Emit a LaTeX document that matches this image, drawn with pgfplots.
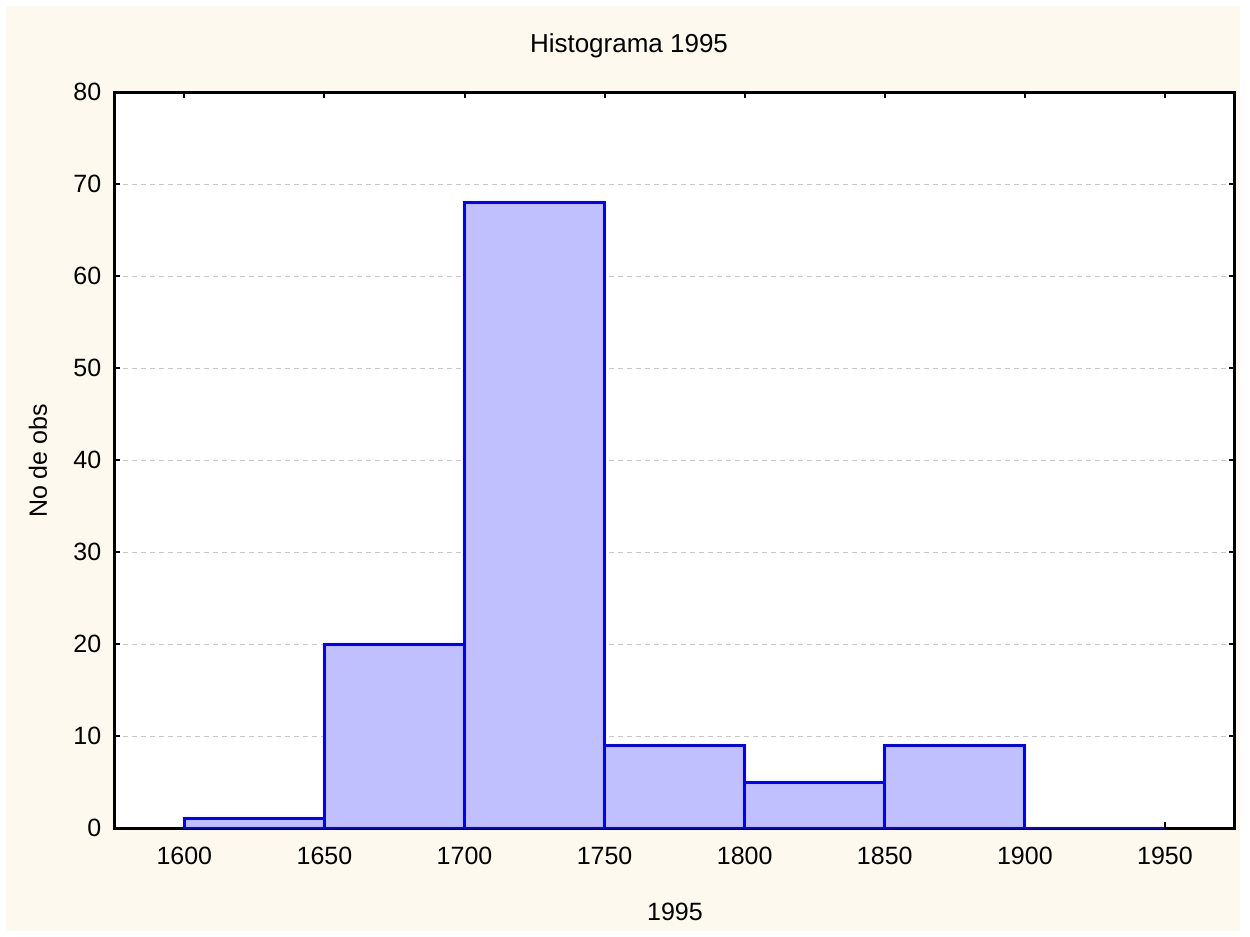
\documentclass[border=0pt]{standalone}
\usepackage{pgfplots}
\pgfplotsset{compat=1.18}
\usepackage{fontspec}
\setmainfont{Liberation Sans}

\definecolor{cream}{RGB}{254,249,238}
\definecolor{barfill}{RGB}{192,192,255}
\definecolor{barline}{RGB}{0,0,255}
\definecolor{gridgray}{RGB}{200,200,200}

\begin{document}
\begin{tikzpicture}
% page: 1250 x 937 px, 1 px = 0.5pt, origin at top-left
\fill[white] (0,0) rectangle (625pt,-468.5pt);
\fill[cream] (3pt,-3pt) rectangle (620pt,-465.5pt);

\begin{axis}[
    at={(57.15pt,-414pt)}, anchor=south west,
    scale only axis,
    width=560.35pt, height=368pt,
    xmin=1575, xmax=1975,
    ymin=0, ymax=80,
    xtick={1600,1650,...,1950},
    ytick={0,10,...,80},
    tick align=inside,
    major tick length=3pt,
    every tick/.style={black, line width=1pt},
    axis line style={line width=1.5pt},
    axis background/.style={fill=white},
    ymajorgrids,
    grid style={gridgray, dash pattern=on 2.5pt off 2pt, line width=0.5pt},
    /pgf/number format/assume math mode=true,
    /pgf/number format/1000 sep={},
    ticklabel style={font=\fontsize{12.5}{14}\selectfont},
    xticklabel style={yshift=-6pt},
    yticklabel style={xshift=-3pt},
]
\addplot[ybar interval, fill=barfill, draw=barline, line width=1.5pt] coordinates {
    (1600,1) (1650,20) (1700,68) (1750,9) (1800,5) (1850,9) (1900,0) (1950,0)
};
\end{axis}

\node[font=\fontsize{13}{15}\selectfont] at (314.5pt,-23pt) {Histograma 1995};
\node[font=\fontsize{12.5}{14}\selectfont] at (337.5pt,-456pt) {1995};
\node[font=\fontsize{12.5}{14}\selectfont, rotate=90] at (19pt,-230.5pt) {No de obs};
\end{tikzpicture}
\end{document}
